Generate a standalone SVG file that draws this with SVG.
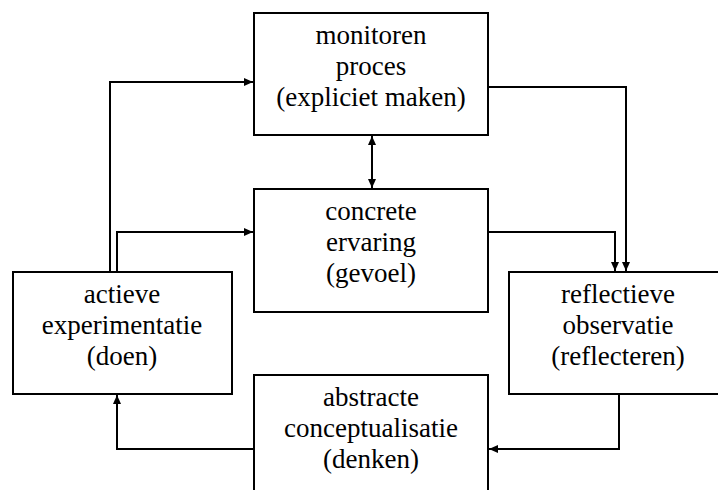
<svg xmlns="http://www.w3.org/2000/svg" width="718" height="490" viewBox="0 0 718 490">
<style>
.box{fill:#fff;stroke:#000;stroke-width:2}
text{font-family:'Liberation Serif','Times New Roman',serif;font-size:27px;fill:#000;text-anchor:middle}
.c{fill:none;stroke:#000;stroke-width:2}
</style>
<defs>
<marker id="ah" viewBox="0 0 9 8" refX="9" refY="4" markerWidth="9" markerHeight="8" markerUnits="userSpaceOnUse" orient="auto-start-reverse">
<path d="M0,0 L9,4 L0,8 z" fill="#000"/>
</marker>
</defs>
<rect width="718" height="490" fill="#fff"/>
<g id="connectors">
<path class="c" d="M110,272 V82 H253" marker-end="url(#ah)"/>
<path class="c" d="M117,272 V232 H253" marker-end="url(#ah)"/>
<path class="c" d="M488,87 H626 V271" marker-end="url(#ah)"/>
<path class="c" d="M488,232 H615 V271" marker-end="url(#ah)"/>
<path class="c" d="M372,136 V188" marker-start="url(#ah)" marker-end="url(#ah)"/>
<path class="c" d="M619,394 V449 H489" marker-end="url(#ah)"/>
<path class="c" d="M254,449 H117 V395" marker-end="url(#ah)"/>
</g>
<g id="monitoren">
<rect class="box" x="254" y="13" width="234" height="122"/>
<text x="371" y="44">monitoren</text>
<text x="371" y="75">proces</text>
<text x="371" y="106">(expliciet maken)</text>
</g>
<g id="concrete">
<rect class="box" x="254" y="189" width="234" height="123"/>
<text x="371" y="220">concrete</text>
<text x="371" y="251">ervaring</text>
<text x="371" y="282">(gevoel)</text>
</g>
<g id="actieve">
<rect class="box" x="13" y="272" width="219" height="122"/>
<text x="122" y="303">actieve</text>
<text x="122" y="334">experimentatie</text>
<text x="122" y="365">(doen)</text>
</g>
<g id="reflectieve">
<rect class="box" x="509" y="272" width="218" height="122"/>
<text x="618" y="303">reflectieve</text>
<text x="618" y="334">observatie</text>
<text x="618" y="365">(reflecteren)</text>
</g>
<g id="abstracte">
<rect class="box" x="254" y="375" width="234" height="130"/>
<text x="371" y="406">abstracte</text>
<text x="371" y="437">conceptualisatie</text>
<text x="371" y="468">(denken)</text>
</g>
</svg>
